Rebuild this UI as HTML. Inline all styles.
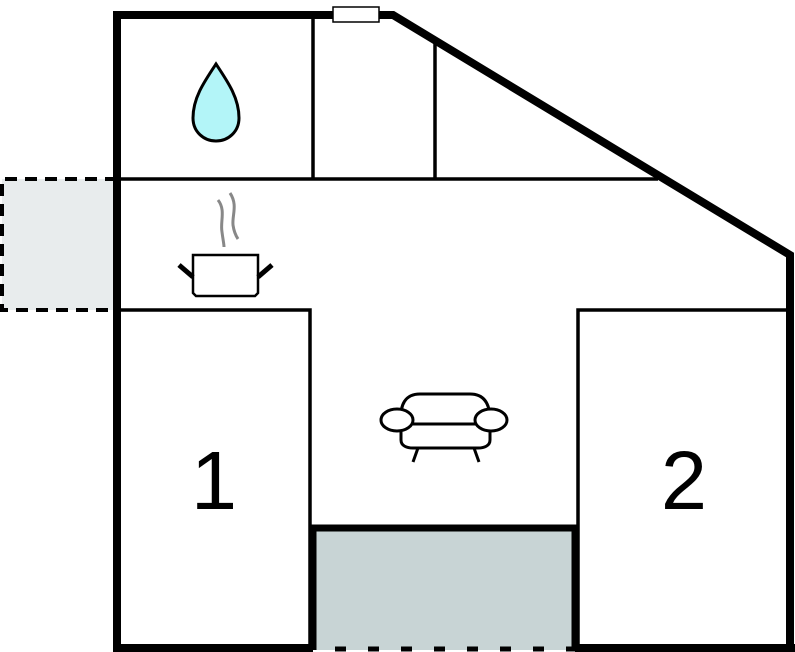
<!DOCTYPE html>
<html><head><style>html,body{margin:0;padding:0;background:#fff;}svg{display:block}</style></head>
<body>
<svg width="795" height="652" viewBox="0 0 795 652" xmlns="http://www.w3.org/2000/svg">
<rect x="0" y="0" width="795" height="652" fill="#fff"/>
<!-- dashed left box -->
<rect x="2" y="179" width="115" height="131" fill="#e8eced"/>
<path d="M117 179 H2 V310 H117" fill="none" stroke="#000" stroke-width="4" stroke-dasharray="12,8"/>
<!-- gray box -->
<rect x="313" y="528" width="262" height="122" fill="#c8d4d5"/>
<path d="M313 650 V528 H575 V650" fill="none" stroke="#000" stroke-width="7"/>
<!-- inner thin lines -->
<g stroke="#000" stroke-width="3.5" fill="none">
<line x1="117" y1="179" x2="658" y2="179"/>
<line x1="313" y1="15" x2="313" y2="179"/>
<line x1="435" y1="38" x2="435" y2="179"/>
<path d="M117 310 H310 V648"/>
<path d="M790 310 H578 V648"/>
</g>
<!-- outer walls -->
<path d="M117 648 V15 H393 L790 255 V648" fill="none" stroke="#000" stroke-width="8" stroke-linejoin="miter"/>
<line x1="113" y1="648" x2="313" y2="648" stroke="#000" stroke-width="8"/>
<line x1="575" y1="648" x2="795" y2="648" stroke="#000" stroke-width="8"/>
<line x1="313" y1="649" x2="575" y2="649" stroke="#000" stroke-width="5" stroke-dasharray="11,22" stroke-dashoffset="-22"/>
<!-- window -->
<rect x="333" y="7" width="46" height="15" fill="#fff" stroke="#000" stroke-width="1.5"/>
<!-- drop -->
<path d="M216 64 C228 82 239 98 239 118 C239 132 228 141 216 141 C204 141 193 132 193 118 C193 98 204 82 216 64 Z" fill="#b3f5f8" stroke="#000" stroke-width="3"/>
<!-- steam -->
<path d="M218 200 C226 210 220 222 222 232 C223 240 224 244 224 247" fill="none" stroke="#888" stroke-width="3"/>
<path d="M230 193 C238 205 232 215 233 225 C234 232 236 236 238 239" fill="none" stroke="#888" stroke-width="3"/>
<!-- pot -->
<path d="M193 255 H258 V293 L255 296 H196 L193 293 Z" fill="#fff" stroke="#000" stroke-width="2.5"/>
<line x1="179" y1="265" x2="193" y2="277" stroke="#000" stroke-width="5"/>
<line x1="272" y1="265" x2="258" y2="277" stroke="#000" stroke-width="5"/>
<!-- sofa -->
<g fill="#fff" stroke="#000" stroke-width="3">
<path d="M401 420 C400 405 405 394 420 394 H470 C485 394 490 405 490 420 V440 C490 446 484 448 478 448 H413 C407 448 401 446 401 440 Z"/>
<line x1="413" y1="424" x2="478" y2="424"/>
<ellipse cx="397" cy="420" rx="16" ry="11"/>
<ellipse cx="491" cy="420" rx="16" ry="11"/>
<line x1="418" y1="448" x2="413" y2="462"/>
<line x1="474" y1="448" x2="479" y2="462"/>
</g>
<text x="214" y="509" font-family="Liberation Sans, sans-serif" font-size="83" text-anchor="middle">1</text>
<text x="684" y="509" font-family="Liberation Sans, sans-serif" font-size="83" text-anchor="middle">2</text>
</svg>
</body></html>
